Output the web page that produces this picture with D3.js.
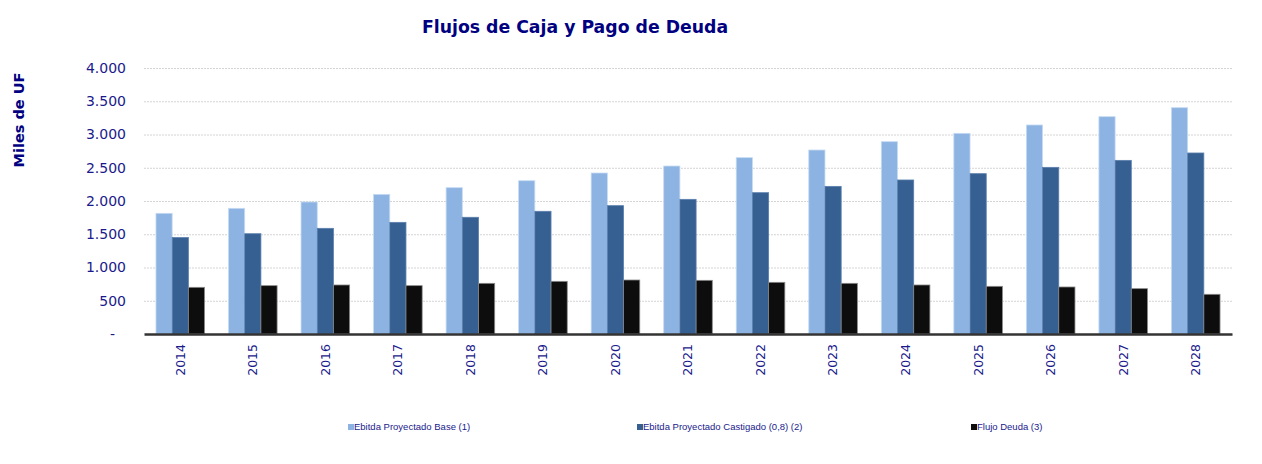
<!DOCTYPE html>
<html><head><meta charset="utf-8">
<script src="https://cdn.jsdelivr.net/npm/d3@7/dist/d3.min.js"></script>
<style>body{margin:0;background:#fff;}svg{display:block;}</style>
</head><body>
<svg id="chart" width="1262" height="464"></svg>
<script>
const years = ["2014","2015","2016","2017","2018","2019","2020","2021","2022","2023","2024","2025","2026","2027","2028"];
const ebitdaBase = [1815,1890,1985,2100,2200,2305,2421,2526,2652,2767,2892,3018,3143,3268,3403];
const ebitdaCastigado = [1450,1508,1589,1679,1755,1845,1930,2025,2125,2220,2316,2411,2506,2611,2722];
const flujoDeuda = [702,727,737,727,762,792,812,807,777,762,737,717,707,682,597];
const yTicks = [0,500,1000,1500,2000,2500,3000,3500,4000];
const seriesNames = ["Ebitda Proyectado Base (1)","Ebitda Proyectado Castigado (0,8) (2)","Flujo Deuda (3)"];
const seriesColors = ["#8DB3E2","#366092","#0D0D0D"];
const seriesStroke = ["#c6dbf3","#5a7fae","#8a8a8a"];

(function(){
const svg = d3.select("#chart");
const navy = "#1a1a8c";
const mL = 144, mR = 1232, mT = 68, mB = 334;

const x = d3.scaleBand().domain(years).range([mL, mR]).paddingInner(0.33).paddingOuter(0.165);
const x1 = d3.scaleBand().domain([0,1,2]).range([0, x.bandwidth()]);
const y = d3.scaleLinear().domain([0,4000]).range([mB, mT]);

// gridlines
svg.append("g").selectAll("line").data(yTicks.filter(d=>d>0)).join("line")
  .attr("x1", mL).attr("x2", mR)
  .attr("y1", d=>y(d)+0.5).attr("y2", d=>y(d)+0.5)
  .attr("stroke", "#d4d4d4").attr("stroke-width", 1).attr("stroke-dasharray", "2,1");

// y axis labels
const fmt = d => d === 0 ? "-" : d3.format(",")(d).replace(/,/g, ".");
const yAxis = d3.axisLeft(y).tickValues(yTicks).tickFormat(fmt).tickSize(0).tickPadding(18);
const gy = svg.append("g").attr("transform", `translate(${mL},0)`).call(yAxis);
gy.select(".domain").remove();
gy.selectAll("text").attr("fill", navy).attr("font-family", "DejaVu Sans, Verdana, sans-serif").attr("font-size", "14px");
gy.selectAll(".tick").filter(d=>d===0).select("text").attr("dx", "-11");

// bars
const series = [ebitdaBase, ebitdaCastigado, flujoDeuda];
series.forEach((vals, si) => {
  svg.append("g").selectAll("rect").data(vals).join("rect")
    .attr("x", (d,i) => x(years[i]) + x1(si))
    .attr("y", d => y(d))
    .attr("width", x1.bandwidth())
    .attr("height", d => mB - y(d))
    .attr("fill", seriesColors[si])
    .attr("stroke", seriesStroke[si]).attr("stroke-width", 0.8);
});

// x axis
const xAxis = d3.axisBottom(x).tickSize(0).tickPadding(8);
const gx = svg.append("g").attr("transform", `translate(0,${mB})`).call(xAxis);
gx.select(".domain").attr("stroke", "#333").attr("stroke-width", 2.5);
gx.selectAll("text")
  .attr("fill", navy).attr("font-family", "DejaVu Sans, Verdana, sans-serif").attr("font-size", "12.5px")
  .attr("transform", "rotate(-90)").attr("text-anchor", "end")
  .attr("x", -10).attr("y", 0).attr("dy", "0.35em");

// title
svg.append("text").attr("x", 575).attr("y", 33).attr("text-anchor", "middle")
  .attr("fill", "#000080").attr("font-family", "DejaVu Sans, Verdana, sans-serif")
  .attr("font-weight", "bold").attr("font-size", "17.3px").text("Flujos de Caja y Pago de Deuda");

// y title
svg.append("text").attr("transform", "translate(24,120) rotate(-90)").attr("text-anchor", "middle")
  .attr("fill", "#000080").attr("font-family", "DejaVu Sans, Verdana, sans-serif")
  .attr("font-weight", "bold").attr("font-size", "14.5px").text("Miles de UF");

// legend
const legendX = [348, 637, 971];
const lg = svg.append("g").selectAll("g").data(seriesNames).join("g")
  .attr("transform", (d,i) => `translate(${legendX[i]},427)`);
lg.append("rect").attr("x", 0).attr("y", -3).attr("width", 6).attr("height", 6)
  .attr("fill", (d,i) => seriesColors[i]);
lg.append("text").attr("x", 6).attr("y", 0).attr("dy", "0.35em")
  .attr("fill", navy).attr("font-family", "Liberation Sans, Arial, sans-serif").attr("font-size", "9.5px")
  .text(d => d);
})();
</script>
</body></html>
